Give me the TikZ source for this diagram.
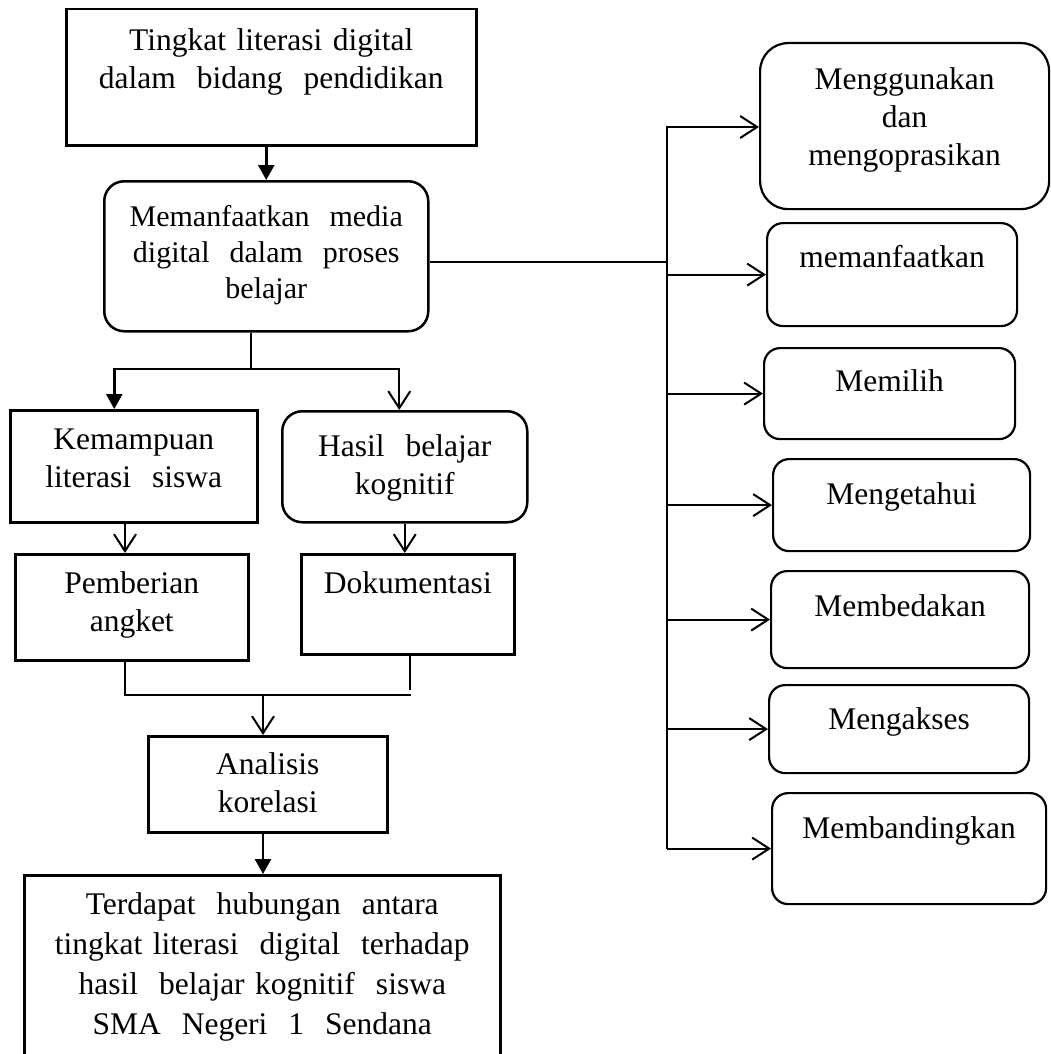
\documentclass[tikz,border=0pt]{standalone}
\usepackage{fontspec}
\setmainfont{Liberation Serif}
\usetikzlibrary{arrows.meta}

\begin{document}
\begin{tikzpicture}[x=1pt,y=-1pt,line width=2pt,
	font=\fontsize{31.5}{38}\selectfont,
	kotak/.style={draw,line width=2.5pt,inner sep=0pt,align=center,anchor=north west},
	bulat/.style={kotak,rounded corners=20pt},
	pilihan/.style={kotak,line width=2.2pt,rounded corners=16pt},
	buka/.style={-{Straight Barb[length=17pt,width=22pt]}},
	tutup/.style={-{Triangle[length=15pt,width=16pt]},line width=2.5pt}]

\useasboundingbox (0,0) rectangle (1051,1054);
\clip (0,0) rectangle (1051,1054);

% #1 nama, #2 gaya, #3..#6 kiri/atas/kanan/bawah, #7 garis dasar baris pertama, #8 teks
\def\kotak#1#2#3#4#5#6#7#8{
	\pgfmathsetmacro\lebar{#5-#3}
	\pgfmathsetmacro\tinggi{#7-#4}
	\pgfmathsetmacro\dalam{#6-#7}
	\node[#2,text width=\lebar pt,text height=\tinggi pt,text depth=\dalam pt] (#1) at (#3,#4) {#8};
}

\kotak{tingkat}{kotak}{65}{8}{475}{144}{49}{Tingkat literasi digital\\dalam~~bidang~~pendidikan}
\kotak{manfaat}{bulat,font=\fontsize{30}{36}\selectfont}{103}{180}{427}{330}{225}{Memanfaatkan~~media\\digital~~dalam~~proses\\belajar}
\kotak{kemampuan}{kotak}{9}{409}{256}{521}{448}{Kemampuan\\literasi~~siswa}
\kotak{hasil}{bulat}{281}{410}{526}{521}{455}{Hasil~~belajar\\kognitif}
\kotak{pemberian}{kotak}{14}{553}{247}{659}{592}{Pemberian\\angket}
\kotak{dokumentasi}{kotak}{300}{553}{513}{653}{592}{Dokumentasi}
\kotak{analisis}{kotak}{147}{735}{386}{831}{773}{Analisis\\korelasi}
\kotak{hubungan}{kotak,font=\fontsize{31.5}{40}\selectfont}{23}{874}{499}{1090}{913}{Terdapat~~hubungan~~antara\\tingkat literasi~~digital~~terhadap\\hasil~~belajar kognitif~~siswa\\SMA~~Negeri~~1~~Sendana}

\kotak{guna}{pilihan,rounded corners=28pt}{759}{42}{1048}{208}{88}{Menggunakan\\dan\\mengoprasikan}
\kotak{manfaatkan}{pilihan}{766}{222}{1016}{325}{266}{memanfaatkan}
\kotak{memilih}{pilihan}{763}{347}{1014}{438}{390}{Memilih}
\kotak{mengetahui}{pilihan}{772}{458}{1029}{550}{503}{Mengetahui}
\kotak{membedakan}{pilihan}{770}{570}{1028}{667}{615}{Membedakan}
\kotak{mengakses}{pilihan}{768}{684}{1028}{772}{728}{Mengakses}
\kotak{membandingkan}{pilihan}{771}{792}{1045}{903}{837}{Membandingkan}

\coordinate (cabang) at (251,369);
\coordinate (kiri) at (125,695);
\coordinate (gabung) at (263,695);
\coordinate (ujung) at (411,695);
\coordinate (kanan) at (410,690);
\coordinate (rel) at (667,262);
\coordinate (atas) at (667,127);

\draw[tutup] (manfaat.north |- tingkat.south) -- (manfaat.north);
\draw (manfaat.south -| cabang) -- (cabang);
\draw[tutup] (cabang) -| ([xshift=-19.5pt]kemampuan.north);
\draw[buka] (cabang) -| ([xshift=-5.5pt]hasil.north);

\draw[buka] (kemampuan.south -| kiri) -- (pemberian.north -| kiri);
\draw[buka] (hasil.south) -- (hasil.south |- dokumentasi.north);
\draw (pemberian.south -| kiri) -- (kiri) -- (ujung);
\draw (dokumentasi.south -| kanan) -- (kanan);
\draw[buka] (gabung) -- (analisis.north -| gabung);
\draw[tutup] (analisis.south -| gabung) -- (hubungan.north -| gabung);

\draw (manfaat.east |- rel) -- (rel);
\draw[buka] (atas |- membandingkan.west) -- (atas) -- (guna.west |- atas);
\foreach \k in {manfaatkan,memilih,mengetahui,membedakan,mengakses,membandingkan}
	\draw[buka] (atas |- \k.west) -- (\k.west);

\end{tikzpicture}
\end{document}
